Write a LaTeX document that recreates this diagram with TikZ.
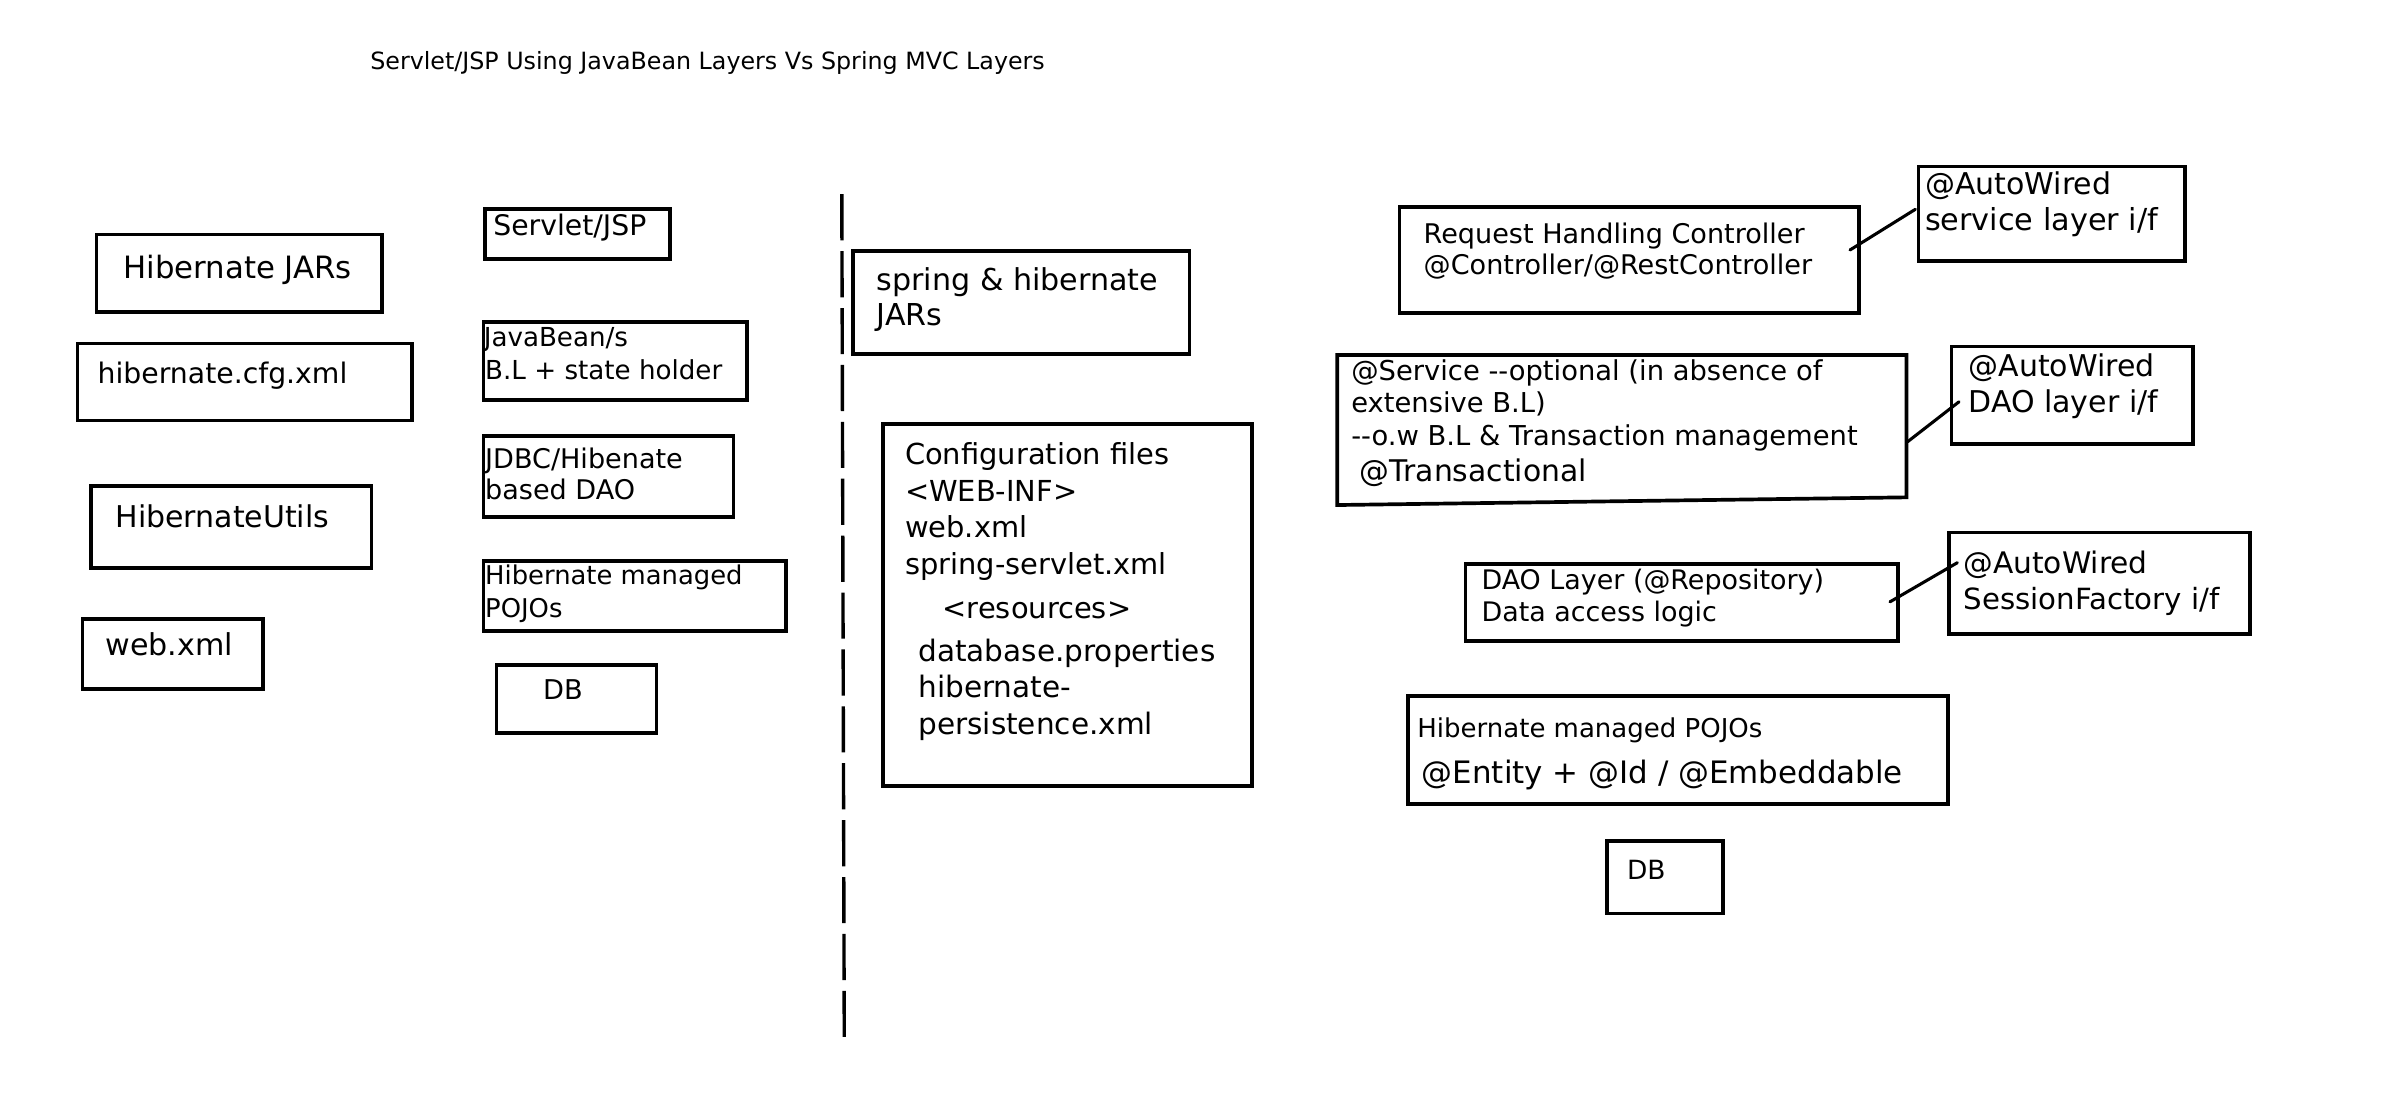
\documentclass[tikz,border=0pt]{standalone}
\usepackage{fontspec}
\setmainfont{DejaVu Sans}
\usetikzlibrary{fit}
\newcommand\fsz[1]{\fontsize{#1}{#1}\selectfont}
\begin{document}
\begin{tikzpicture}[x=1pt,y=-1pt,
  box/.style={draw, line width=2.4pt, inner sep=0pt, outer sep=0pt},
  plainbox/.style={draw=none, inner sep=0pt, outer sep=0pt},
  txt/.style={anchor=base west, inner sep=0pt, outer sep=0pt},
  link/.style={line width=2pt, line cap=round},
  divider/.style={line width=2.2pt, dash pattern=on 30pt off 7pt}]
\useasboundingbox (0,0) rectangle (1560,712.05);

% title
\node[txt, font=\fsz{15.45}] (title) at (240.8,45.5) {Servlet/JSP Using JavaBean Layers Vs Spring MVC Layers};

% left column
\node[box, fit={(62.7,152.4) (248.5,202.7)}] (hjars) {};
\node[txt, font=\fsz{20}] (hjarsT) at (80.4,181) {Hibernate JARs};
\node[box, fit={(50.4,223.3) (267.9,273.5)}] (cfg) {};
\node[txt, font=\fsz{18.4}] (cfgT) at (63.5,249.3) {hibernate.cfg.xml};
\node[box, fit={(59.2,316) (241.5,369.2)}] (utils) {};
\node[txt, font=\fsz{19.5}] (utilsT) at (75.1,342.9) {HibernateUtils};
\node[box, fit={(53.6,402.5) (171,448.1)}] (webx) {};
\node[txt, font=\fsz{19.6}] (webxT) at (68.7,426) {web.xml};

% second column
\node[box, fit={(315.5,135.9) (435.7,168.2)}] (servlet) {};
\node[txt, font=\fsz{18.4}] (servletT) at (320.8,153.3) {Servlet/JSP};
\node[box, fit={(314.4,209.2) (485.7,260)}] (bean) {};
\node[txt, font=\fsz{17}] (beanT1) at (314.6,225.5) {JavaBean/s};
\node[txt, font=\fsz{17}] (beanT2) at (315.5,246.5) {B.L + state holder};
\node[box, fit={(314.4,283.5) (476.9,336.4)}] (jdbc) {};
\node[txt, font=\fsz{17.6}] (jdbcT1) at (315.5,304.5) {JDBC/Hibenate};
\node[txt, font=\fsz{17.6}] (jdbcT2) at (315.5,324.7) {based DAO};
\node[box, fit={(314.4,364.8) (511.1,410.1)}] (pojoA) {};
\node[txt, font=\fsz{16.8}] (pojoAT1) at (315.5,380.4) {Hibernate managed};
\node[txt, font=\fsz{16.8}] (pojoAT2) at (315.5,401.5) {POJOs};
\node[box, fit={(322.9,432.5) (426.9,476.5)}] (dbA) {};
\node[txt, font=\fsz{17.7}] (dbAT) at (353.2,454.6) {DB};

% divider
\coordinate (dtop) at (547.4,126.3);
\coordinate (dbot) at (549,678);
\draw[divider] (dtop) -- (dbot);

% middle column
\node[box, fit={(554.5,163) (773.4,230.3)}] (spring) {};
\node[txt, font=\fsz{19.6}] (springT1) at (570.1,188.8) {spring \& hibernate};
\node[txt, font=\fsz{19.6}] (springT2) at (570.1,211.8) {JARs};
\node[box, fit={(574,275.6) (814.2,511)}] (config) {};
\node[txt, font=\fsz{18.8}] (configT1) at (588.5,302) {Configuration files};
\node[txt, font=\fsz{18.8}] (configT2) at (588.5,325.9) {<WEB-INF>};
\node[txt, font=\fsz{18.8}] (configT3) at (588.5,349.8) {web.xml};
\node[txt, font=\fsz{18.8}] (configT4) at (588.5,373.4) {spring-servlet.xml};
\node[txt, font=\fsz{18.8}] (configT5) at (613,401.9) {<resources>};
\node[txt, font=\fsz{19.2}] (configT6) at (597.2,430.4) {database.properties};
\node[txt, font=\fsz{19.2}] (configT7) at (597.2,453.5) {hibernate-};
\node[txt, font=\fsz{19.2}] (configT8) at (597.2,477.4) {persistence.xml};

% right column
\node[box, fit={(910,134.4) (1208.9,203.7)}] (ctrl) {};
\node[txt, font=\fsz{17.6}] (ctrlT1) at (925.8,158.6) {Request Handling Controller};
\node[txt, font=\fsz{17.6}] (ctrlT2) at (925.8,178.8) {@Controller/@RestController};
\node[box, fit={(1247.6,108.3) (1420.6,169.5)}] (awA) {};
\node[txt, font=\fsz{19.5}] (awAT1) at (1251.8,126.8) {@AutoWired};
\node[txt, font=\fsz{19.7}] (awAT2) at (1251.8,150) {service layer i/f};

\node[plainbox, fit={(869.6,230.8) (1239.7,328.4)}] (svc) {};
\draw[line width=2.4pt, line join=miter] (svc.north west) -- (svc.north east) -- ([yshift=5pt]svc.south east) -- (svc.south west) -- cycle;
\node[txt, font=\fsz{17.8}] (svcT1) at (878.7,247.5) {@Service -{}-optional (in absence of};
\node[txt, font=\fsz{17.8}] (svcT2) at (878.7,268.3) {extensive B.L)};
\node[txt, font=\fsz{17.8}] (svcT3) at (878.7,289.4) {-{}-o.w B.L \& Transaction management};
\node[txt, font=\fsz{19.4}] (svcT4) at (884.2,313.2) {@Transactional};
\node[box, fit={(1268.9,225.4) (1426,288.7)}] (awB) {};
\node[txt, font=\fsz{19.5}] (awBT1) at (1280.1,244.9) {@AutoWired};
\node[txt, font=\fsz{19.5}] (awBT2) at (1280.1,268.3) {DAO layer i/f};

\node[box, fit={(952.9,366.7) (1234.4,416.6)}] (dao) {};
\node[txt, font=\fsz{17.5}] (daoT1) at (963.4,383.6) {DAO Layer (@Repository)};
\node[txt, font=\fsz{17.5}] (daoT2) at (963.4,404.2) {Data access logic};
\node[box, fit={(1267.4,346.3) (1463.1,412.3)}] (awC) {};
\node[txt, font=\fsz{19.3}] (awCT1) at (1276.8,372.8) {@AutoWired};
\node[txt, font=\fsz{19}] (awCT2) at (1276.8,396.2) {SessionFactory i/f};

\node[box, fit={(915.4,452.6) (1266.8,523)}] (pojoB) {};
\node[txt, font=\fsz{16.9}] (pojoBT1) at (921.7,479.5) {Hibernate managed POJOs};
\node[txt, font=\fsz{20.1}] (pojoBT2) at (924.6,509.8) {@Entity + @Id / @Embeddable};
\node[box, fit={(1045,546.7) (1120.5,594)}] (dbB) {};
\node[txt, font=\fsz{17.2}] (dbBT) at (1058,571.6) {DB};

% connectors
\draw[link] ([xshift=-5.9pt,yshift=6.5pt]ctrl.east) -- ([xshift=-2.1pt,yshift=2.8pt]awA.west);
\draw[link] ([xshift=0.8pt,yshift=-7.6pt]svc.east) -- ([xshift=5pt,yshift=-4.2pt]awB.west);
\draw[link] ([xshift=-5.4pt,yshift=0.3pt]dao.east) -- ([xshift=5.4pt,yshift=13.4pt]awC.west);
\end{tikzpicture}
\end{document}
